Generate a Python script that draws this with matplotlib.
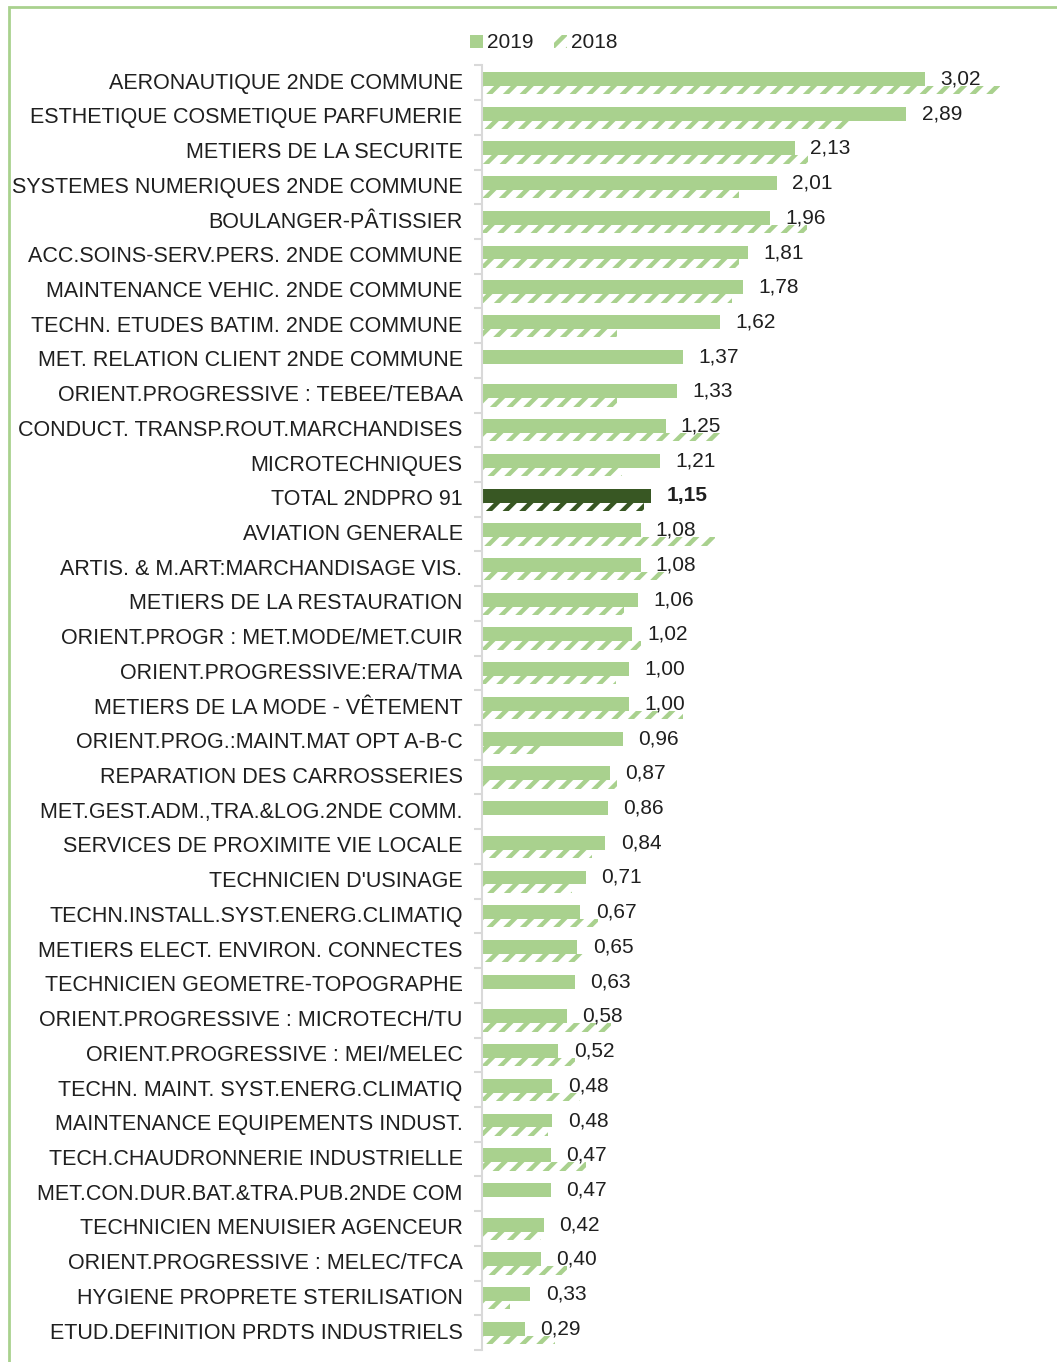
import matplotlib
matplotlib.use("Agg")
import matplotlib.pyplot as plt
from matplotlib.patches import Rectangle
import numpy as np

plt.rcParams['font.family'] = ['Liberation Sans', 'DejaVu Sans']
plt.rcParams['hatch.linewidth'] = 3.2

categories = [
    "AERONAUTIQUE 2NDE COMMUNE", "ESTHETIQUE COSMETIQUE PARFUMERIE",
    "METIERS DE LA SECURITE", "SYSTEMES NUMERIQUES 2NDE COMMUNE",
    "BOULANGER-PÂTISSIER", "ACC.SOINS-SERV.PERS. 2NDE COMMUNE",
    "MAINTENANCE VEHIC. 2NDE COMMUNE", "TECHN. ETUDES BATIM. 2NDE COMMUNE",
    "MET. RELATION CLIENT 2NDE COMMUNE", "ORIENT.PROGRESSIVE : TEBEE/TEBAA",
    "CONDUCT. TRANSP.ROUT.MARCHANDISES", "MICROTECHNIQUES",
    "TOTAL 2NDPRO 91", "AVIATION GENERALE",
    "ARTIS. & M.ART:MARCHANDISAGE VIS.", "METIERS DE LA RESTAURATION",
    "ORIENT.PROGR : MET.MODE/MET.CUIR", "ORIENT.PROGRESSIVE:ERA/TMA",
    "METIERS DE LA MODE - VÊTEMENT", "ORIENT.PROG.:MAINT.MAT OPT A-B-C",
    "REPARATION DES CARROSSERIES", "MET.GEST.ADM.,TRA.&LOG.2NDE COMM.",
    "SERVICES DE PROXIMITE VIE LOCALE", "TECHNICIEN D'USINAGE",
    "TECHN.INSTALL.SYST.ENERG.CLIMATIQ", "METIERS ELECT. ENVIRON. CONNECTES",
    "TECHNICIEN GEOMETRE-TOPOGRAPHE", "ORIENT.PROGRESSIVE : MICROTECH/TU",
    "ORIENT.PROGRESSIVE : MEI/MELEC", "TECHN. MAINT. SYST.ENERG.CLIMATIQ",
    "MAINTENANCE EQUIPEMENTS INDUST.", "TECH.CHAUDRONNERIE INDUSTRIELLE",
    "MET.CON.DUR.BAT.&TRA.PUB.2NDE COM", "TECHNICIEN MENUISIER AGENCEUR",
    "ORIENT.PROGRESSIVE : MELEC/TFCA", "HYGIENE PROPRETE STERILISATION",
    "ETUD.DEFINITION PRDTS INDUSTRIELS",
]
v2019 = [3.02, 2.89, 2.13, 2.01, 1.96, 1.81, 1.78, 1.62, 1.37, 1.33, 1.25,
         1.21, 1.15, 1.08, 1.08, 1.06, 1.02, 1.00, 1.00, 0.96, 0.87, 0.86,
         0.84, 0.71, 0.67, 0.65, 0.63, 0.58, 0.52, 0.48, 0.48, 0.47, 0.47,
         0.42, 0.40, 0.33, 0.29]
v2018 = [3.53, 2.50, 2.22, 1.75, 2.21, 1.75, 1.70, 0.92, 0, 0.92, 1.62,
         0.95, 1.10, 1.59, 1.25, 0.97, 1.08, 0.91, 1.37, 0.41, 0.92, 0,
         0.75, 0.61, 0.79, 0.70, 0, 0.88, 0.63, 0.67, 0.45, 0.71, 0,
         0.40, 0.58, 0.19, 0.50]
total_label = "TOTAL 2NDPRO 91"

light = '#A9D18E'
dark = '#385723'
colors = [dark if c == total_label else light for c in categories]

fig = plt.figure(figsize=(10.57, 13.62), dpi=100)
ax = fig.add_axes([482 / 1057, 1 - 1350 / 1362, (1040 - 482) / 1057, (1350 - 65.4) / 1362])

y = np.arange(len(categories))
b19 = ax.barh(y - 0.11, v2019, height=0.4, color=colors, linewidth=0, label='2019')
b18 = ax.barh(y + 0.21, v2018, height=0.24, facecolor='white', edgecolor=colors,
              hatch='//', linewidth=0, label='2018')

for i, (v, c) in enumerate(zip(v2019, categories)):
    bold = c == total_label
    ax.annotate(f"{v:.2f}".replace('.', ','), (v, i - 0.11), xytext=(11, 0),
                textcoords='offset points', va='center', ha='left',
                fontsize=15, color='#1f1f1f',
                fontweight='bold' if bold else 'normal')

ax.set_ylim(len(categories) - 0.5, -0.5)
ax.set_xlim(0, 3.8)
ax.set_yticks(y - 0.06)
ax.set_yticklabels(categories, fontsize=15.5, color='#1f1f1f')
ax.set_yticks(np.arange(-0.5, len(categories), 1), minor=True)
ax.tick_params(axis='y', which='major', length=0, pad=14)
ax.tick_params(axis='y', which='minor', length=6, width=1.5, color='#D9D9D9')
ax.set_xticks([])
for s in ['top', 'right', 'bottom']:
    ax.spines[s].set_visible(False)
ax.spines['left'].set_color('#D9D9D9')
ax.spines['left'].set_linewidth(1.5)

fig.legend(handles=[b19, b18], loc='center', bbox_to_anchor=(544 / 1057, 1 - 43 / 1362),
           ncol=2, frameon=False, fontsize=15, handlelength=0.6, handleheight=0.6,
           handletextpad=0.2, columnspacing=1.0, labelcolor='#1f1f1f')

fig.patches.append(Rectangle((9 / 1057, -0.01), 1.2, 1 - 7 / 1362 + 0.01,
                             transform=fig.transFigure, fill=False,
                             edgecolor=light, linewidth=2))

fig.savefig('out.png', dpi=100)
